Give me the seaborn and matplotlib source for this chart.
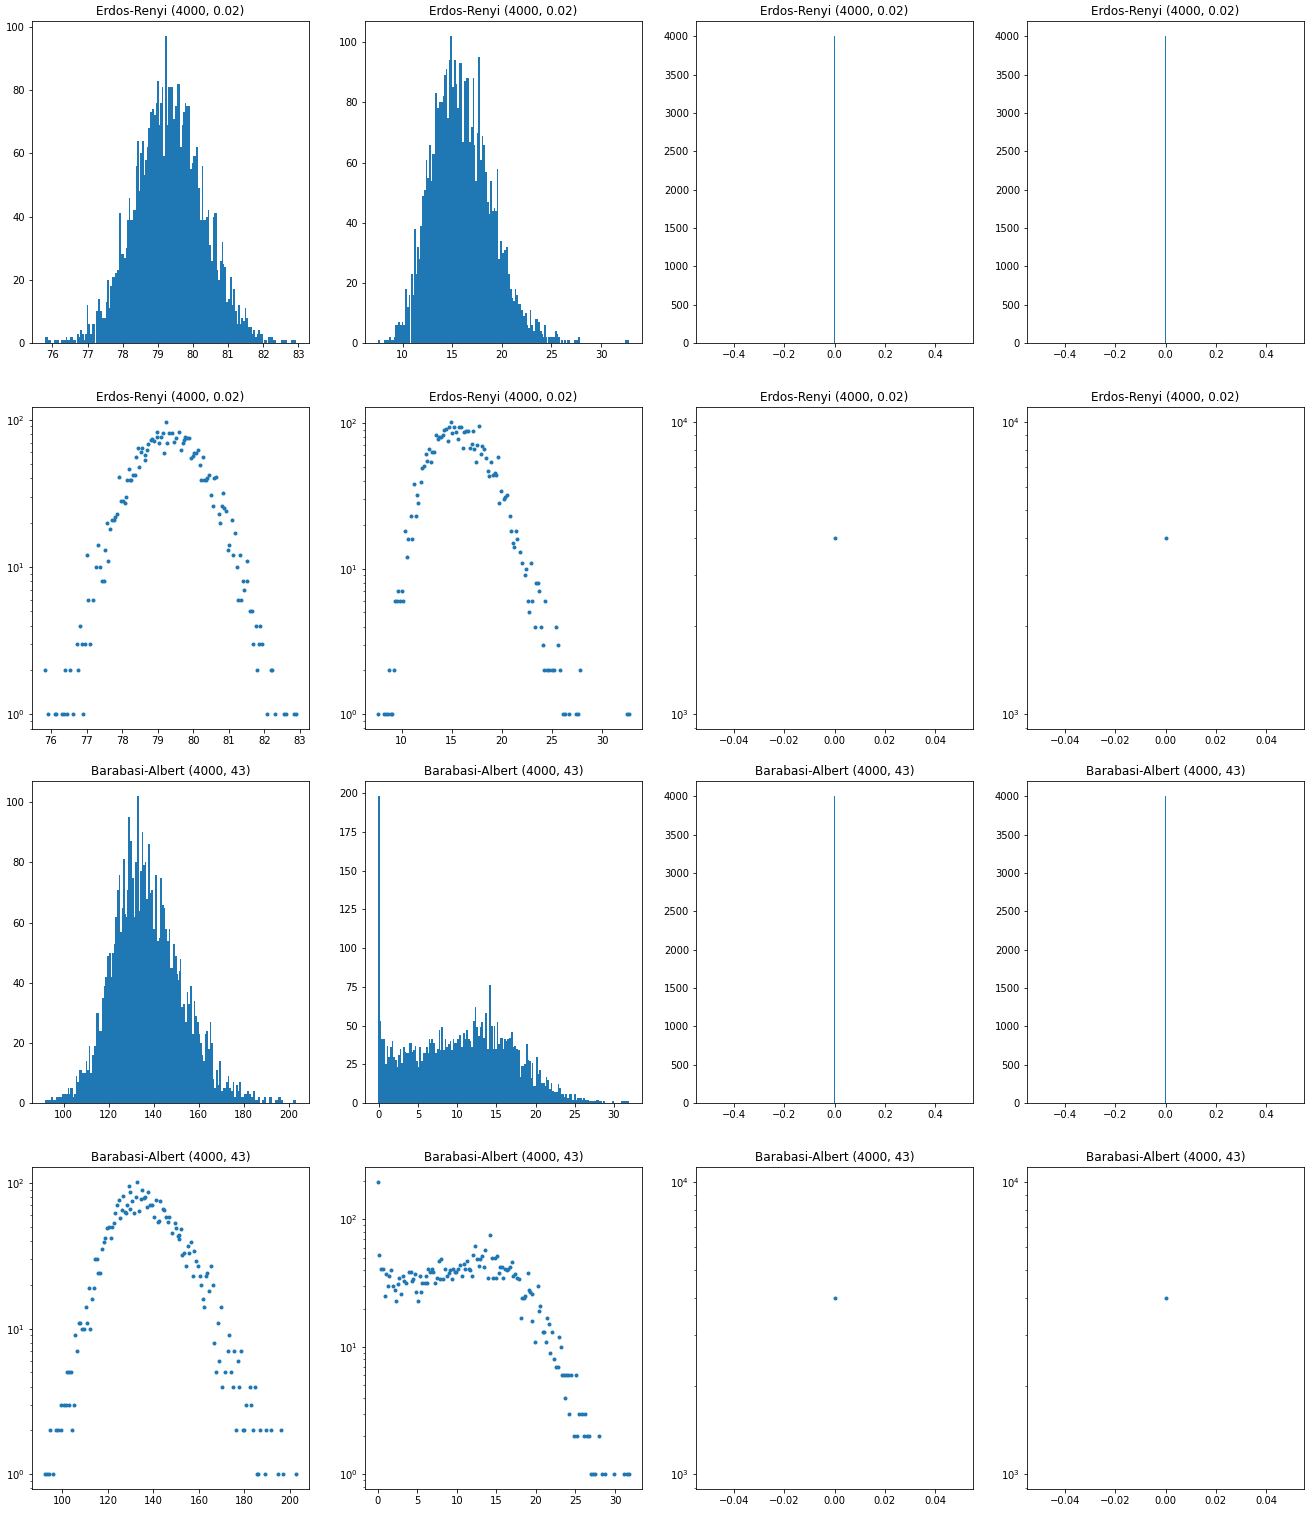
import numpy as np
import matplotlib
matplotlib.use("Agg")
import matplotlib.pyplot as plt
import seaborn as sns

# Erdos-Renyi (4000, 0.02), first metric: value -> number of nodes
er_a_vals = [75.82, 75.92, 76.10, 76.15, 76.30, 76.36, 76.40, 76.45, 76.54, 76.62,
             76.73, 76.77, 76.81, 76.86, 76.91, 76.95, 77.00, 77.05, 77.10, 77.17,
             77.27, 77.33, 77.39, 77.44, 77.50, 77.53, 77.58, 77.61, 77.66, 77.71,
             77.76, 77.81, 77.86, 77.92, 77.96, 78.02, 78.07, 78.11, 78.15, 78.20,
             78.23, 78.26, 78.30, 78.35, 78.38, 78.44, 78.47, 78.53, 78.56, 78.63,
             78.65, 78.71, 78.74, 78.80, 78.85, 78.91, 78.97, 78.99, 79.05, 79.09,
             79.14, 79.18, 79.24, 79.27, 79.32, 79.39, 79.46, 79.52, 79.59, 79.65,
             79.70, 79.75, 79.78, 79.83, 79.88, 79.93, 79.99, 80.03, 80.08, 80.12,
             80.19, 80.22, 80.27, 80.30, 80.35, 80.40, 80.45, 80.49, 80.56, 80.59,
             80.63, 80.71, 80.74, 80.80, 80.83, 80.86, 80.91, 80.97, 81.01, 81.08,
             81.13, 81.16, 81.23, 81.27, 81.31, 81.35, 81.40, 81.44, 81.50, 81.52,
             81.60, 81.66, 81.68, 81.75, 81.78, 81.84, 81.88, 81.94, 82.06, 82.18,
             82.22, 82.31, 82.54, 82.62, 82.83, 82.90]
er_a_counts = [2, 1, 1, 1, 1, 1, 2, 1, 2, 1,
               3, 2, 4, 3, 1, 3, 12, 6, 3, 6,
               10, 14, 10, 8, 8, 13, 20, 11, 18, 21,
               21, 22, 23, 41, 28, 28, 27, 30, 39, 46,
               39, 39, 42, 42, 56, 64, 48, 60, 64, 53,
               58, 62, 68, 73, 74, 72, 76, 83, 69, 76,
               81, 59, 97, 69, 81, 81, 71, 75, 82, 62,
               69, 73, 76, 75, 75, 55, 57, 59, 59, 62,
               49, 39, 56, 39, 39, 40, 42, 31, 26, 40,
               41, 23, 20, 26, 32, 25, 24, 13, 14, 21,
               12, 17, 10, 6, 12, 6, 8, 7, 11, 8,
               5, 5, 3, 4, 2, 3, 4, 3, 1, 2,
               2, 1, 1, 1, 1, 1]

# Erdos-Renyi (4000, 0.02), second metric
er_b_vals = [7.60, 8.20, 8.40, 8.60, 8.75, 8.90, 9.05, 9.20, 9.33, 9.50,
             9.67, 9.83, 10.00, 10.17, 10.33, 10.57, 10.67, 10.93, 11.07, 11.27,
             11.40, 11.57, 11.67, 11.90, 12.00, 12.23, 12.43, 12.57, 12.77, 12.90,
             13.00, 13.20, 13.40, 13.60, 13.73, 13.93, 14.13, 14.27, 14.43, 14.60,
             14.73, 14.90, 15.07, 15.27, 15.43, 15.60, 15.73, 15.90, 16.10, 16.27,
             16.43, 16.60, 16.83, 17.00, 17.10, 17.27, 17.40, 17.55, 17.73, 17.90,
             18.00, 18.17, 18.40, 18.60, 18.73, 18.93, 19.10, 19.27, 19.40, 19.57,
             19.67, 19.90, 20.17, 20.33, 20.50, 20.77, 20.90, 21.07, 21.20, 21.40,
             21.53, 21.77, 22.00, 22.27, 22.40, 22.57, 22.70, 22.93, 23.03, 23.27,
             23.40, 23.57, 23.75, 23.90, 24.10, 24.20, 24.35, 24.47, 24.73, 25.00,
             25.20, 25.43, 25.63, 25.77, 26.07, 26.33, 26.73, 27.40, 27.60, 27.80,
             32.50, 32.73]
er_b_counts = [1, 1, 1, 1, 2, 1, 1, 2, 6, 6,
               7, 6, 7, 6, 18, 12, 16, 23, 16, 38,
               23, 32, 28, 39, 49, 51, 61, 55, 66, 54,
               63, 63, 83, 78, 80, 80, 82, 89, 91, 75,
               94, 102, 85, 94, 86, 78, 93, 93, 67, 87,
               88, 88, 67, 72, 88, 66, 54, 70, 95, 61,
               69, 66, 57, 47, 43, 54, 44, 45, 44, 58,
               28, 34, 30, 31, 32, 23, 18, 15, 14, 18,
               16, 13, 11, 9, 10, 6, 5, 11, 6, 4,
               8, 8, 7, 4, 3, 2, 6, 2, 2, 2,
               2, 4, 3, 2, 1, 1, 1, 1, 1, 2,
               1, 1]

# Barabasi-Albert (4000, 43), first metric
ba_a_vals = [92.2, 93.1, 94.0, 94.4, 95.9, 97.2, 98.1, 99.3, 99.6, 100.7,
             101.6, 101.9, 102.8, 103.1, 103.8, 104.2, 105.1, 105.4, 106.3, 107.4,
             107.8, 108.8, 109.6, 110.3, 110.7, 111.5, 112.0, 112.9, 113.8, 114.5,
             115.4, 115.7, 116.7, 117.5, 118.2, 118.8, 119.8, 120.7, 121.3, 121.6,
             122.8, 123.1, 123.9, 125.0, 125.4, 126.1, 126.6, 127.5, 128.0, 128.4,
             129.2, 129.5, 129.8, 130.8, 131.6, 132.2, 133.0, 133.8, 134.5, 134.9,
             135.7, 136.3, 137.1, 137.8, 138.6, 139.3, 140.4, 141.1, 141.9, 142.6,
             143.0, 144.2, 144.8, 145.5, 146.3, 147.0, 148.0, 149.3, 149.9, 150.7,
             151.1, 151.4, 152.1, 152.6, 153.4, 154.3, 155.1, 155.5, 156.5, 157.6,
             158.0, 158.7, 159.5, 160.5, 160.9, 161.7, 162.2, 163.1, 163.6, 164.6,
             165.3, 166.1, 166.8, 167.3, 168.3, 168.7, 169.7, 170.2, 171.4, 172.7,
             173.1, 174.1, 174.9, 175.5, 176.3, 177.1, 177.8, 178.4, 179.3, 179.9,
             180.8, 182.2, 183.0, 183.7, 184.6, 185.3, 186.0, 186.7, 188.9, 189.3,
             191.8, 194.7, 196.2, 196.9, 202.8]
ba_a_counts = [1, 1, 1, 2, 1, 2, 2, 2, 3, 3,
               3, 5, 3, 5, 5, 2, 3, 9, 7, 11,
               11, 10, 10, 14, 11, 19, 10, 16, 19, 30,
               30, 24, 24, 35, 39, 42, 49, 50, 42, 50,
               53, 62, 71, 76, 57, 65, 81, 63, 62, 71,
               95, 66, 87, 75, 62, 80, 102, 64, 77, 90,
               79, 80, 68, 86, 70, 71, 58, 76, 54, 55,
               75, 66, 65, 58, 54, 58, 45, 53, 49, 43,
               41, 44, 48, 32, 33, 27, 37, 33, 39, 23,
               34, 29, 27, 23, 20, 16, 14, 23, 24, 18,
               27, 20, 8, 5, 11, 6, 14, 4, 5, 7,
               9, 5, 4, 7, 2, 6, 4, 7, 2, 2,
               3, 4, 3, 2, 4, 1, 1, 2, 1, 2,
               2, 1, 2, 1, 1]

# Barabasi-Albert (4000, 43), second metric
ba_b_vals = [0.00, 0.20, 0.38, 0.64, 0.89, 1.06, 1.31, 1.49, 1.74, 1.91,
             2.17, 2.34, 2.55, 2.72, 2.97, 3.15, 3.39, 3.65, 3.95, 4.16,
             4.29, 4.46, 4.71, 4.88, 5.05, 5.31, 5.48, 5.65, 5.99, 6.15,
             6.30, 6.41, 6.58, 6.84, 7.01, 7.26, 7.52, 7.70, 7.86, 8.07,
             8.28, 8.54, 8.71, 8.96, 9.13, 9.38, 9.55, 9.72, 9.89, 10.15,
             10.40, 10.66, 10.91, 11.08, 11.25, 11.51, 11.68, 11.93, 12.10, 12.36,
             12.53, 12.78, 12.96, 13.21, 13.38, 13.63, 13.93, 14.20, 14.45, 14.62,
             14.80, 14.95, 15.10, 15.30, 15.51, 15.72, 15.89, 16.14, 16.31, 16.48,
             16.74, 16.99, 17.16, 17.41, 17.67, 17.84, 18.10, 18.30, 18.45, 18.60,
             18.94, 19.10, 19.28, 19.45, 19.54, 19.87, 20.25, 20.38, 20.55, 20.89,
             21.01, 21.27, 21.39, 21.65, 21.82, 22.07, 22.24, 22.50, 22.75, 22.92,
             23.17, 23.30, 23.50, 23.65, 23.85, 24.00, 24.15, 24.45, 24.87, 25.04,
             25.20, 25.46, 25.80, 26.05, 26.18, 26.39, 26.73, 26.90, 27.24, 27.50,
             27.92, 28.30, 28.72, 29.90, 31.14, 31.48, 31.81]
ba_b_counts = [198, 53, 41, 41, 25, 37, 30, 36, 40, 30,
               28, 23, 31, 35, 26, 36, 33, 32, 39, 39,
               33, 34, 37, 27, 23, 36, 27, 32, 32, 36,
               32, 41, 39, 41, 39, 32, 35, 47, 34, 49,
               34, 41, 36, 38, 40, 34, 41, 39, 39, 41,
               44, 36, 45, 41, 47, 41, 40, 36, 53, 62,
               49, 43, 49, 52, 42, 58, 35, 76, 50, 35,
               50, 35, 52, 38, 42, 42, 35, 41, 40, 41,
               42, 46, 36, 37, 35, 34, 17, 24, 24, 25,
               38, 28, 27, 16, 26, 11, 30, 19, 21, 13,
               13, 11, 17, 15, 9, 13, 8, 7, 7, 12,
               10, 6, 6, 4, 6, 6, 3, 6, 2, 6,
               2, 3, 3, 2, 3, 2, 2, 1, 1, 1,
               2, 1, 1, 1, 1, 1, 1]

# metrics that are zero for every node
flat_vals = [0.0]
flat_counts = [4000]

er_title = "Erdos-Renyi (4000, 0.02)"
ba_title = "Barabasi-Albert (4000, 43)"
blue = "#1f77b4"

W, H = 1312, 1532
col_left = [32, 365, 696, 1027]
row_top = [21, 407, 781, 1167]
ax_w, ax_h = 277, 322


def bin_edges(vals, half):
    # one bar per distinct value, never wider than 2*half
    v = np.asarray(vals, dtype=float)
    mids = (v[1:] + v[:-1]) / 2
    left = np.concatenate([[v[0] - half], np.maximum(mids, v[1:] - half)])
    right = np.concatenate([np.minimum(mids, v[:-1] + half), [v[-1] + half]])
    return np.unique(np.concatenate([left, right])).tolist()


def hist_panel(ax, vals, counts, title, half=None):
    if half is None:
        sns.histplot(x=vals, weights=counts, bins=301, binrange=(-0.5, 0.5),
                     color=blue, alpha=1, linewidth=0, ax=ax)
    else:
        sns.histplot(x=vals, weights=counts, bins=bin_edges(vals, half),
                     color=blue, alpha=1, linewidth=0, ax=ax)
    ax.set_title(title)
    ax.set_xlabel("")
    ax.set_ylabel("")


def log_panel(ax, vals, counts, title):
    sns.scatterplot(x=vals, y=counts, color=blue, s=16, linewidth=0, ax=ax)
    ax.set_yscale("log")
    ax.set_title(title)
    ax.set_xlabel("")
    ax.set_ylabel("")


fig, axes = plt.subplots(4, 4, figsize=(W / 72, H / 72), dpi=72)
for r in range(4):
    for c in range(4):
        axes[r, c].set_position([col_left[c] / W, 1 - (row_top[r] + ax_h) / H,
                                 ax_w / W, ax_h / H])

hist_panel(axes[0, 0], er_a_vals, er_a_counts, er_title, half=0.045)
hist_panel(axes[0, 1], er_b_vals, er_b_counts, er_title, half=0.12)
hist_panel(axes[0, 2], flat_vals, flat_counts, er_title)
hist_panel(axes[0, 3], flat_vals, flat_counts, er_title)

log_panel(axes[1, 0], er_a_vals, er_a_counts, er_title)
log_panel(axes[1, 1], er_b_vals, er_b_counts, er_title)
log_panel(axes[1, 2], flat_vals, flat_counts, er_title)
log_panel(axes[1, 3], flat_vals, flat_counts, er_title)

hist_panel(axes[2, 0], ba_a_vals, ba_a_counts, ba_title, half=0.7)
hist_panel(axes[2, 1], ba_b_vals, ba_b_counts, ba_title, half=0.17)
hist_panel(axes[2, 2], flat_vals, flat_counts, ba_title)
hist_panel(axes[2, 3], flat_vals, flat_counts, ba_title)

log_panel(axes[3, 0], ba_a_vals, ba_a_counts, ba_title)
log_panel(axes[3, 1], ba_b_vals, ba_b_counts, ba_title)
log_panel(axes[3, 2], flat_vals, flat_counts, ba_title)
log_panel(axes[3, 3], flat_vals, flat_counts, ba_title)

fig.savefig("out.png", dpi=72)
